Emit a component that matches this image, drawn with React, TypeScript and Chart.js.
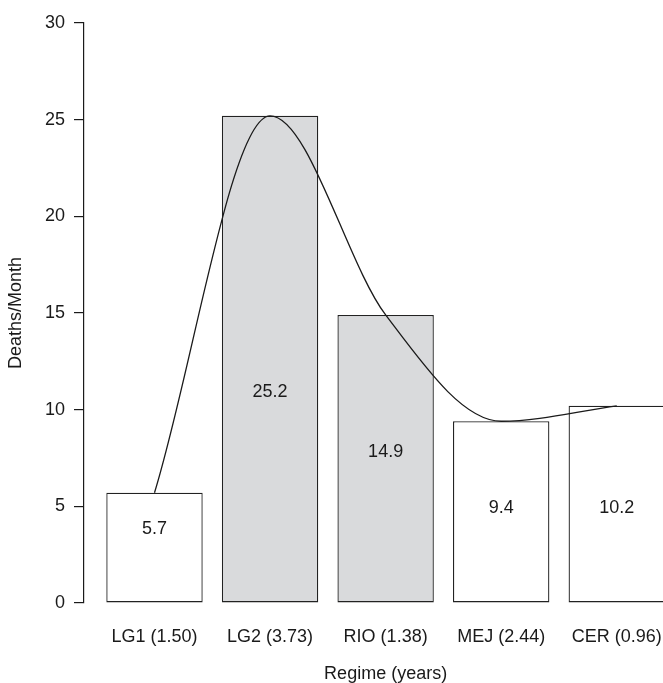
import React, { useEffect, useRef } from "react";
import { Chart, registerables } from "chart.js";

Chart.register(...registerables);

const categories = ["LG1 (1.50)", "LG2 (3.73)", "RIO (1.38)", "MEJ (2.44)", "CER (0.96)"];
const deathsPerMonth = [5.7, 25.2, 14.9, 9.4, 10.2];
const valueLabels = ["5.7", "25.2", "14.9", "9.4", "10.2"];
const labelHeights = [3.83, 10.9, 7.83, 4.9, 4.9];
const shaded = [false, true, true, false, false];
const yTicks = [0, 5, 10, 15, 20, 25, 30];
const xTitle = "Regime (years)";
const yTitle = "Deaths/Month";

const FONT = "'Liberation Sans', Arial, Helvetica, sans-serif";
const INK = "#1a1a1a";

export default function App() {
  const ref = useRef<HTMLCanvasElement | null>(null);

  useEffect(() => {
    document.body.style.margin = "0";
    document.body.style.overflow = "hidden";
    const canvas = ref.current;
    if (!canvas) return;

    const textPlugin = {
      id: "textLayer",
      afterDatasetsDraw(chart: any) {
        const { ctx, scales } = chart;
        const xs = scales.x;
        const ys = scales.y;
        ctx.save();
        ctx.font = `18px ${FONT}`;
        ctx.fillStyle = INK;
        ctx.textAlign = "center";
        ctx.textBaseline = "middle";
        valueLabels.forEach((t, i) => {
          ctx.fillText(t, xs.getPixelForValue(i), ys.getPixelForValue(labelHeights[i]));
        });
        const labelY = xs.top + 34.5;
        categories.forEach((t, i) => {
          ctx.fillText(t, xs.getPixelForValue(i), labelY);
        });
        const mid = xs.getPixelForValue((categories.length - 1) / 2);
        ctx.fillText(xTitle, mid, xs.top + 71);
        ctx.restore();
      },
    };

    const chart = new Chart(canvas, {
      type: "bar",
      data: {
        datasets: [
          {
            type: "line",
            data: deathsPerMonth.map((v, i) => ({ x: i, y: v })),
            borderColor: INK,
            borderWidth: 1.3,
            pointRadius: 0,
            cubicInterpolationMode: "monotone",
            fill: false,
            order: 0,
          } as any,
          {
            type: "bar",
            data: deathsPerMonth.map((v, i) => ({ x: i, y: v })),
            backgroundColor: shaded.map((s) => (s ? "#d9dadc" : "#ffffff")),
            borderColor: "#222222",
            borderWidth: 1.3,
            borderSkipped: false,
            barPercentage: 0.834,
            categoryPercentage: 1,
            order: 1,
          } as any,
        ],
      },
      options: {
        animation: false,
        responsive: false,
        devicePixelRatio: 1,
        layout: { padding: { top: 23, right: 0, left: 0, bottom: 0 } },
        plugins: {
          legend: { display: false },
          tooltip: { enabled: false },
        },
        scales: {
          x: {
            type: "linear",
            min: -0.61,
            max: 4.4,
            offset: false,
            grid: { display: false, drawTicks: false },
            border: { display: false },
            afterBuildTicks: (scale: any) => {
              scale.ticks = categories.map((_, i) => ({ value: i }));
            },
            afterFit: (scale: any) => {
              scale.height = 80;
            },
            ticks: { display: false, padding: 0 },
            title: { display: false },
          },
          y: {
            type: "linear",
            min: 0,
            max: 30,
            afterBuildTicks: (scale: any) => {
              scale.ticks = yTicks.map((v) => ({ value: v }));
            },
            afterFit: (scale: any) => {
              scale.width = 84;
            },
            grid: {
              drawOnChartArea: false,
              drawTicks: true,
              tickLength: 10,
              color: INK,
              lineWidth: 1.2,
            },
            border: { display: true, color: INK, width: 1.2 },
            ticks: {
              padding: 9,
              color: INK,
              font: { family: FONT, size: 18 },
            },
            title: {
              display: true,
              text: yTitle,
              color: INK,
              font: { family: FONT, size: 18, lineHeight: 1.2 },
              padding: { top: 5, bottom: 0 },
            },
          },
        },
      } as any,
      plugins: [textPlugin],
    });

    return () => chart.destroy();
  }, []);

  return (
    <div style={{ width: 663, height: 683, overflow: "hidden", position: "relative", background: "#fff" }}>
      <canvas ref={ref} width={663} height={683} style={{ display: "block" }} />
    </div>
  );
}
